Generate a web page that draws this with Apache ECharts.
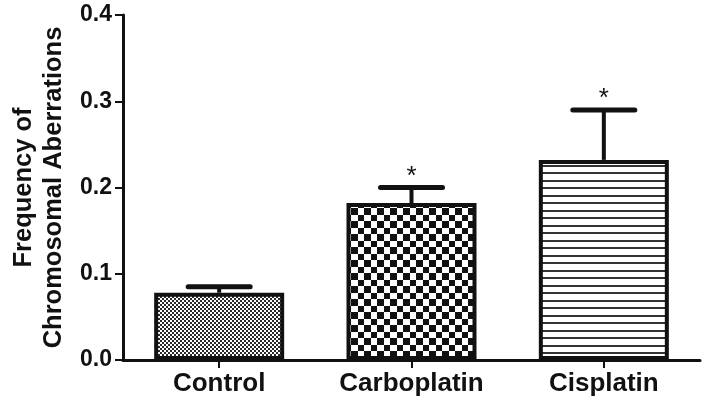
<!DOCTYPE html>
<html><head><meta charset="utf-8">
<script src="https://cdn.jsdelivr.net/npm/echarts@6/dist/echarts.min.js"></script>
<style>html,body{margin:0;padding:0;background:#fff}#c{width:707px;height:407px}</style>
</head><body><div id="c"></div>
<script>
var categories = ['Control', 'Carboplatin', 'Cisplatin'];
var means = [0.078, 0.182, 0.232];
var upper = [0.085, 0.200, 0.290];
var marks = ['', '*', '*'];
var yTicks = [0, 0.1, 0.2, 0.3, 0.4];

function pat(kind) {
  var c = document.createElement('canvas');
  var g;
  if (kind === 0) {
    c.width = 4; c.height = 4; g = c.getContext('2d');
    g.fillStyle = '#fff'; g.fillRect(0, 0, 4, 4);
    g.fillStyle = '#2a2a2a'; g.fillRect(0, 0, 2, 2); g.fillRect(2, 2, 2, 2);
  } else if (kind === 1) {
    c.width = 13; c.height = 13; g = c.getContext('2d');
    g.fillStyle = '#fff'; g.fillRect(0, 0, 13, 13);
    g.fillStyle = '#111'; g.fillRect(0, 0, 7, 7); g.fillRect(7, 7, 6, 6);
  } else {
    c.width = 15; c.height = 15; g = c.getContext('2d');
    g.fillStyle = '#fff'; g.fillRect(0, 0, 15, 15);
    g.fillStyle = '#333'; g.fillRect(0, 0, 15, 2); g.fillRect(0, 7, 15, 2);
  }
  return {image: c, repeat: 'repeat'};
}

var chart = echarts.init(document.getElementById('c'));
chart.setOption({
  animation: false,
  grid: {left: 123, right: 7, top: 15, bottom: 47, containLabel: false, outerBoundsMode: 'none'},
  xAxis: {
    type: 'category', data: categories,
    axisLine: {lineStyle: {color: '#111', width: 3}},
    axisTick: {show: true, alignWithLabel: true, length: 8, lineStyle: {color: '#111', width: 2}},
    axisLabel: {color: '#111', fontFamily: 'Liberation Sans', fontWeight: 'bold', fontSize: 26, margin: 11}
  },
  yAxis: {
    type: 'value', min: 0, max: 0.4, interval: 0.1,
    name: 'Frequency of\nChromosomal Aberrations',
    nameLocation: 'middle', nameRotate: 90, nameGap: 54,
    nameTextStyle: {color: '#111', fontFamily: 'Liberation Sans', fontWeight: 'bold', fontSize: 25.5, lineHeight: 30},
    axisLine: {show: true, lineStyle: {color: '#111', width: 3}},
    axisTick: {show: true, length: 8, lineStyle: {color: '#111', width: 2}},
    splitLine: {show: false},
    axisLabel: {color: '#111', fontFamily: 'Liberation Sans', fontWeight: 'bold', fontSize: 23, margin: 11,
      formatter: function (v) { return v.toFixed(1); }}
  },
  series: [{
    type: 'bar', barWidth: 130,
    data: means.map(function (v, i) {
      return {value: v, itemStyle: {color: pat(i), borderColor: '#111', borderWidth: 4}};
    }),
    z: 2
  }, {
    type: 'custom', z: 3,
    data: categories.map(function (c, i) { return [i, means[i], upper[i]]; }),
    renderItem: function (params, api) {
      var base = api.coord([api.value(0), api.value(1)]);
      var top = api.coord([api.value(0), api.value(2)]);
      var x = base[0];
      var hw = 31;
      var children = [
        {type: 'line', shape: {x1: x, y1: base[1], x2: x, y2: top[1]}, style: {stroke: '#111', lineWidth: 4}},
        {type: 'line', shape: {x1: x - hw, y1: top[1], x2: x + hw, y2: top[1]}, style: {stroke: '#111', lineWidth: 5, lineCap: 'round'}}
      ];
      var m = marks[params.dataIndex];
      if (m) {
        children.push({type: 'text', style: {text: m, x: x, y: top[1] + 2, align: 'center', verticalAlign: 'bottom',
          fill: '#111', font: '26px "Liberation Sans"'}});
      }
      return {type: 'group', children: children};
    }
  }]
});
</script></body></html>
